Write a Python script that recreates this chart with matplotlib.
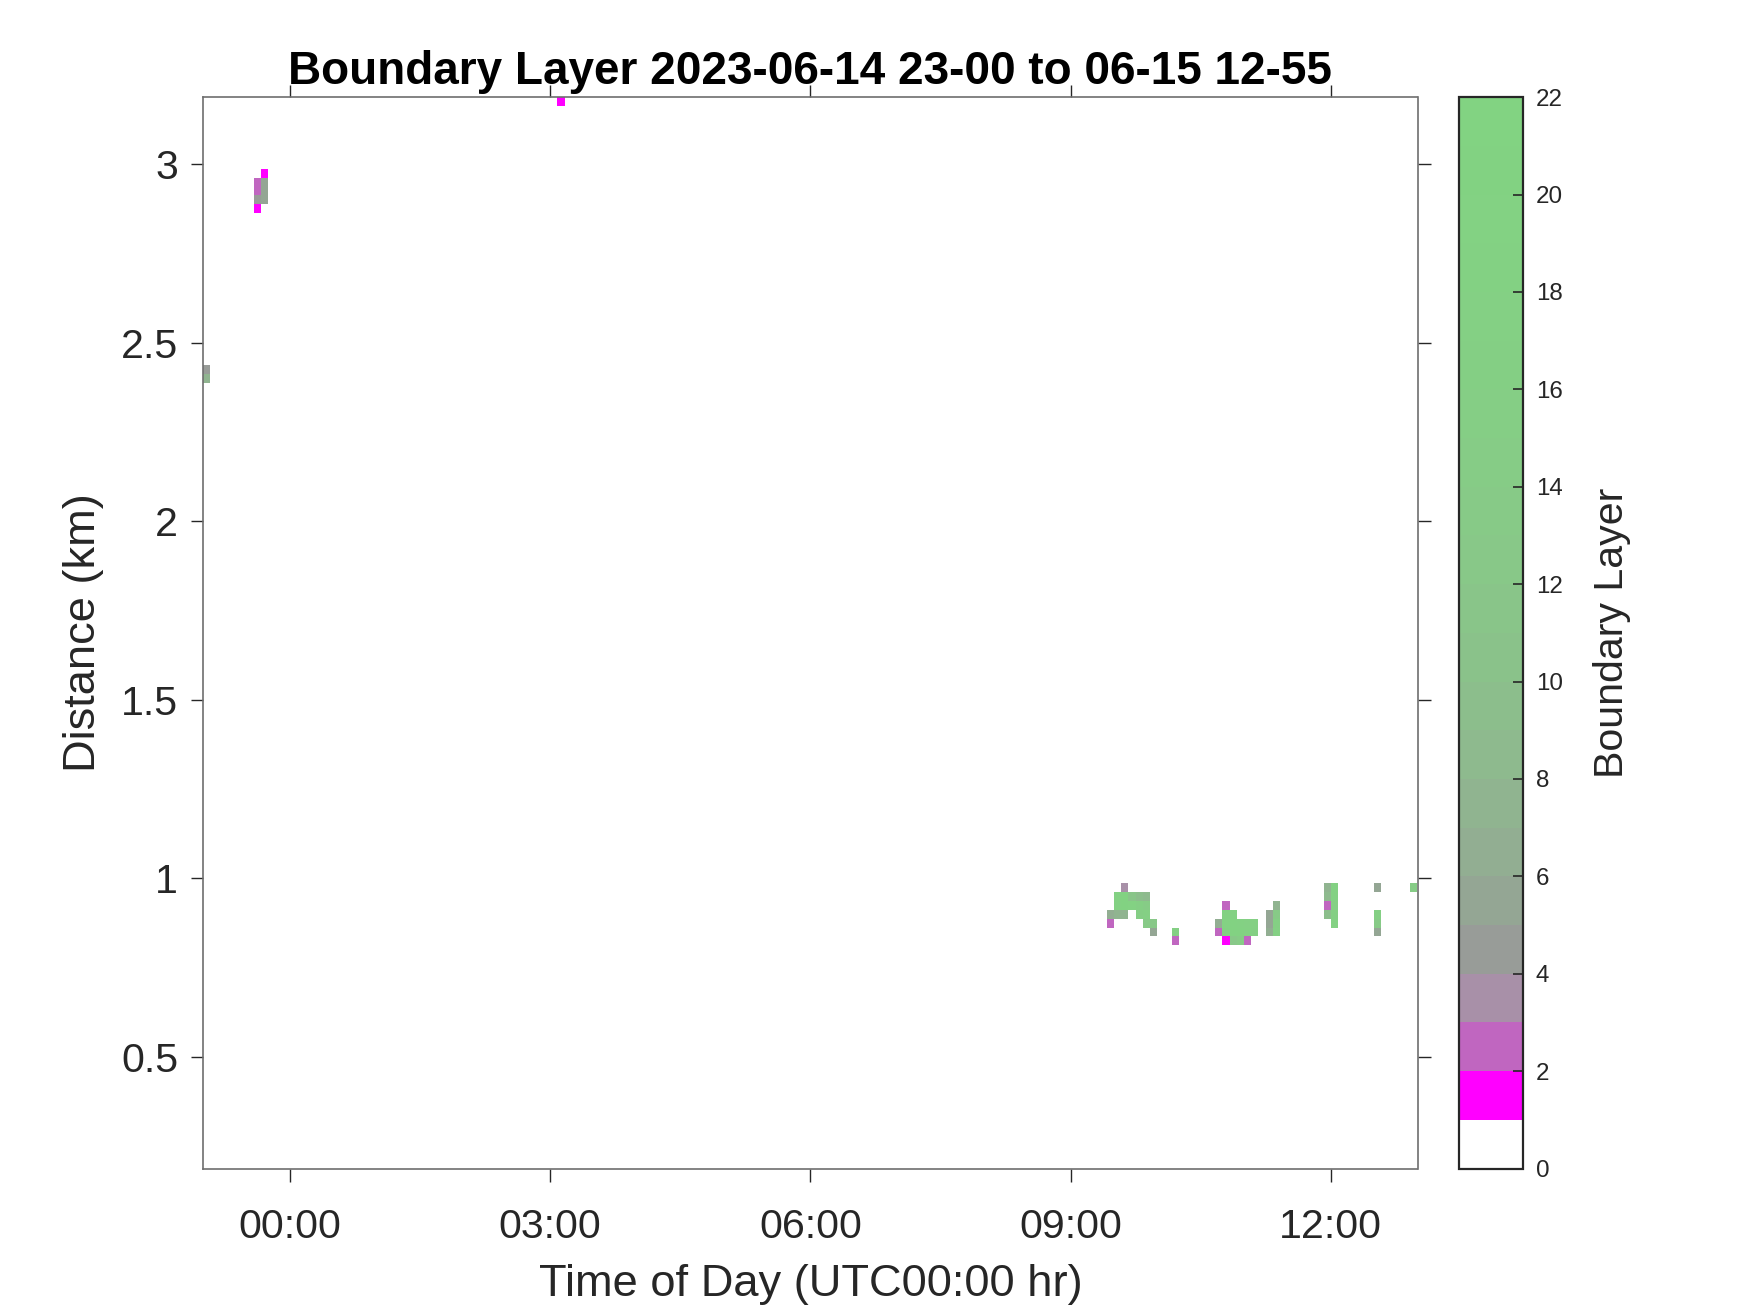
import numpy as np
import matplotlib
matplotlib.use("Agg")
import matplotlib.pyplot as plt
from matplotlib.colors import ListedColormap, BoundaryNorm

plt.rcParams['font.family'] = ['Liberation Sans', 'DejaVu Sans']

title = 'Boundary Layer 2023-06-14 23-00 to 06-15 12-55'

# 5-minute bins from 23:00 to 12:55, 25 m range gates
t_start, t_end, t_step_min = -1.0, 13.0, 5
gate_start, gate_end, gate_km = 0.1875, 3.1875, 0.025

# non-empty cells: bin start time, gate centre (km), boundary layer value
cell_time = [
    "23:00", "23:00",
    "23:35", "23:35", "23:35", "23:35",
    "23:40", "23:40", "23:40", "23:40",
    "03:05",
    "09:35",
    "09:30", "09:35", "09:40", "09:45", "09:50",
    "09:30", "09:35", "09:40", "09:45", "09:50",
    "09:25", "09:30", "09:35", "09:45", "09:50",
    "09:25", "09:50", "09:55",
    "09:55",
    "10:10", "10:10",
    "10:45",
    "10:45", "10:50",
    "10:40", "10:45", "10:50", "10:55", "11:00", "11:05",
    "10:40", "10:45", "10:50", "10:55", "11:00", "11:05",
    "10:45", "10:50", "10:55", "11:00",
    "11:15", "11:15", "11:15",
    "11:20", "11:20", "11:20", "11:20",
    "11:55", "11:55", "11:55", "11:55",
    "12:00", "12:00", "12:00", "12:00", "12:00",
    "12:30", "12:30", "12:30", "12:30",
    "12:55",
]
cell_dist_km = [
    2.425, 2.400,
    2.950, 2.925, 2.900, 2.875,
    2.975, 2.950, 2.925, 2.900,
    3.175,
    0.975,
    0.950, 0.950, 0.950, 0.950, 0.950,
    0.925, 0.925, 0.925, 0.925, 0.925,
    0.900, 0.900, 0.900, 0.900, 0.900,
    0.875, 0.875, 0.875,
    0.850,
    0.850, 0.825,
    0.925,
    0.900, 0.900,
    0.875, 0.875, 0.875, 0.875, 0.875, 0.875,
    0.850, 0.850, 0.850, 0.850, 0.850, 0.850,
    0.825, 0.825, 0.825, 0.825,
    0.900, 0.875, 0.850,
    0.925, 0.900, 0.875, 0.850,
    0.975, 0.950, 0.925, 0.900,
    0.975, 0.950, 0.925, 0.900, 0.875,
    0.975, 0.900, 0.875, 0.850,
    0.975,
]
cell_value = [
    4.5, 7,
    2.5, 2.5, 4.5, 1.5,
    1.5, 5, 5.5, 5,
    1.5,
    3.5,
    18, 20, 11, 9, 8,
    18, 20, 19, 16, 14,
    6, 7, 7, 15, 17,
    2.5, 13, 12,
    5,
    16, 2.5,
    2.5,
    18, 18,
    6.5, 19, 20, 18, 17, 17,
    2.5, 18, 20, 20, 18, 16,
    1.5, 12, 14, 2.5,
    5, 5.5, 6,
    7, 13, 16, 17,
    7, 8, 2.5, 9,
    18, 18, 17, 16, 18,
    5, 16, 13, 5,
    14,
]

level_colors = [
    '#ffffff', '#ff00ff', '#c066c0', '#a890a8', '#989c98', '#94a694',
    '#92ae92', '#90b490', '#8eba8e', '#8cbe8c', '#8ac28a', '#89c589',
    '#88c888', '#87ca87', '#86cc86', '#85ce85', '#84cf84', '#84d084',
    '#83d183', '#83d283', '#82d282', '#82d382',
]
cbar_ticks = list(range(0, 23, 2))
x_ticks = [0, 3, 6, 9, 12]
x_ticklabels = ['00:00', '03:00', '06:00', '09:00', '12:00']
y_ticks = [0.5, 1, 1.5, 2, 2.5, 3]
y_ticklabels = ['0.5', '1', '1.5', '2', '2.5', '3']


def to_hours(s):
    h, m = s.split(':')
    h = int(h) + int(m) / 60
    return h - 24 if h >= 18 else h


n_t = int(round((t_end - t_start) * 60 / t_step_min))
n_g = int(round((gate_end - gate_start) / gate_km))
x_edges = t_start + np.arange(n_t + 1) * t_step_min / 60
y_edges = gate_start + np.arange(n_g + 1) * gate_km

grid = np.full((n_g, n_t), np.nan)
for t, d, v in zip(cell_time, cell_dist_km, cell_value):
    i = int(np.floor((to_hours(t) - t_start) * 60 / t_step_min + 0.5))
    j = int(np.floor((d - gate_start) / gate_km))
    grid[j, i] = v

cmap = ListedColormap(level_colors)
norm = BoundaryNorm(np.arange(0, 23), cmap.N)

fig = plt.figure(figsize=(8.75, 6.565), dpi=200)
ax = fig.add_axes([0.1161, 0.110, 0.6939, 0.816])
cax = fig.add_axes([0.8335, 0.110, 0.037, 0.816])

mesh = ax.pcolormesh(x_edges, y_edges, np.ma.masked_invalid(grid), cmap=cmap, norm=norm)
ax.set_xlim(t_start, t_end)
ax.set_ylim(gate_start, gate_end)

ax.set_xticks(x_ticks)
ax.set_xticklabels(x_ticklabels)
ax.set_yticks(y_ticks)
ax.set_yticklabels(y_ticklabels)
ax.tick_params(direction='out', length=4.5, width=0.5, colors='#262626',
               labelsize=14.8, top=True, right=True)
ax.tick_params(axis='x', pad=9.6)
ax.tick_params(axis='y', pad=4.5)
for sp in ax.spines.values():
    sp.set_color('#6e6e6e')
    sp.set_linewidth(0.6)

ax.set_xlabel('Time of Day (UTC00:00 hr)', fontsize=16.3, color='#262626', labelpad=6.5)
ax.set_ylabel('Distance (km)', fontsize=16.3, color='#262626', labelpad=6)
ax.set_title(title, fontsize=16.5, fontweight='bold', y=1.012, pad=0)

cb = fig.colorbar(mesh, cax=cax, ticks=cbar_ticks)
cb.minorticks_off()
cb.ax.tick_params(direction='in', length=3.5, width=0.6, labelsize=8.7,
                  colors='#262626', pad=4.5)
cb.outline.set_linewidth(0.8)
cb.outline.set_edgecolor('#262626')
cb.set_label('Boundary Layer', fontsize=14.8, color='#262626', labelpad=11)

fig.savefig('out.png', dpi=200)
